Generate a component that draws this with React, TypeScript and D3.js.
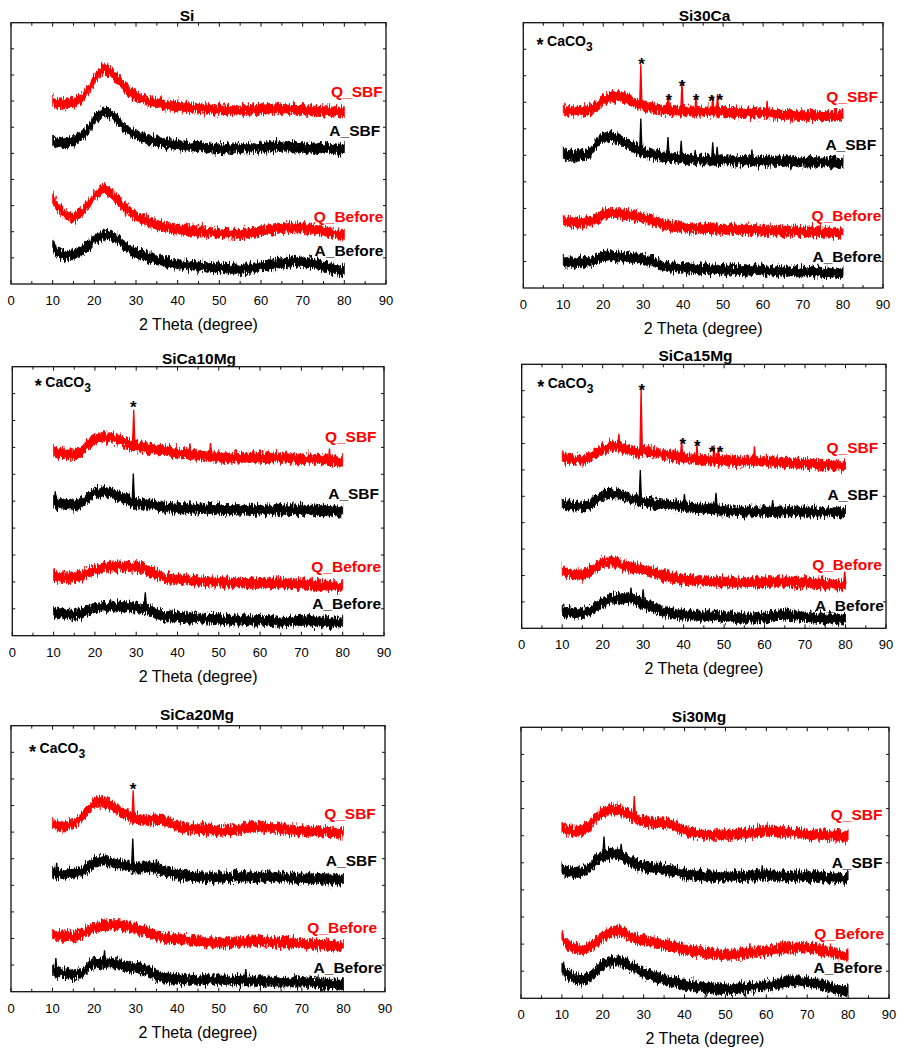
import React from 'react';
import * as d3 from 'd3';

// 2θ grid of the traces (degrees)
const twoTheta = d3.range(10, 81);

// offsets, y in 0..100 of each panel's height
// --- Si
const siQSBF = [70.2,68.4,69.5,68.3,69.9,68.8,70.6,70.2,74.0,74.8, 78.9,79.6,83.4,81.3,81.9,78.6,78.8,75.1,74.7,72.0, 72.4,70.3,71.3,69.2,70.3,68.5,69.7,67.8,69.0,67.5, 68.8,67.1,68.3,66.9,68.1,66.6,67.9,66.3,67.6,66.0, 67.2,65.8,67.1,65.7,67.0,65.8,67.2,66.0,67.4,66.1, 67.5,66.3,67.8,66.5,67.9,66.6,67.8,66.3,67.5,66.1, 67.3,65.9,67.1,65.6,66.9,65.5,66.8,65.4,66.7,65.3,66.2];
const siASBF = [54.9,53.3,54.6,53.4,55.0,54.2,56.4,56.0,58.5,59.9, 63.6,63.8,66.6,65.1,65.8,63.2,62.6,59.3,59.4,57.0, 57.8,55.7,56.5,54.5,55.6,53.9,55.0,53.2,54.3,52.6, 53.9,52.4,53.6,52.0,53.4,51.9,53.2,51.5,52.6,51.0, 52.4,51.0,52.5,51.1,52.7,51.3,52.8,51.4,53.0,51.5, 53.1,51.6,53.2,51.8,53.4,51.9,53.3,51.7,53.0,51.4, 52.8,51.3,52.7,51.2,52.6,51.3,52.7,51.1,52.3,50.7,52.0];
const siQBefore = [33.0,29.4,28.6,26.0,26.3,24.5,27.0,27.0,29.8,30.5, 34.4,34.5,37.4,35.1,35.6,32.3,31.9,29.1,29.2,26.5, 26.7,24.5,25.3,23.2,24.1,22.0,23.1,21.2,22.3,20.4, 21.6,19.9,21.3,19.6,21.0,19.4,20.8,19.1,20.5,18.9, 20.3,18.7,20.0,18.4,19.8,18.3,20.0,18.8,20.5,19.3, 21.0,19.8,21.5,20.3,22.0,20.7,22.3,20.8,22.3,20.7, 22.2,20.5,21.8,20.0,21.3,19.5,20.7,18.8,20.0,18.1,19.2];
const siABefore = [15.2,11.9,11.8,10.2,11.6,10.6,12.7,12.1,14.3,14.7, 17.7,17.0,19.3,18.2,19.3,17.2,17.4,14.3,14.6,11.9, 12.5,10.5,11.6,9.5,10.6,8.6,9.7,7.7,8.8,7.0, 8.2,6.5,8.0,6.2,7.7,6.0,7.5,5.7,7.2,5.4, 6.9,5.2,6.6,4.9,6.4,4.8,6.5,5.2,7.1,5.7, 7.6,6.2,8.1,6.7,8.6,7.2,9.0,7.7,9.5,7.8, 9.2,7.4,8.8,6.8,8.0,6.0,7.2,5.2,6.4,4.4,5.4];

// --- Si30Ca
const si30CaQSBF = [67.5,66.0,67.3,65.8,67.4,66.0,67.6,66.6,68.9,68.5, 71.6,70.7,72.9,71.8,73.2,71.2,72.3,69.8,70.3,68.3, 69.3,67.5,68.6,66.8,68.1,66.4,67.8,66.2,67.7,66.0, 67.3,65.7,67.2,65.6,67.2,65.7,67.1,65.6,67.3,65.7, 67.1,65.5,67.0,65.4,66.9,65.3,66.8,65.2,66.8,65.3, 66.8,65.1,66.6,64.9,66.3,64.7,66.1,64.4,65.9,64.3, 65.8,64.3,65.7,64.2,65.6,64.1,65.6,64.0,65.7,64.2,65.5];
const si30CaASBF = [51.0,49.4,50.7,49.1,50.6,49.2,51.1,50.7,54.4,55.1, 57.5,56.4,57.8,55.8,56.8,54.5,55.0,52.6,53.4,51.3, 51.7,50.0,51.3,49.5,50.6,48.9,50.2,48.5,49.8,48.1, 49.4,47.8,49.2,47.7,49.1,47.6,49.0,47.5,48.9,47.4, 48.8,47.3,48.8,47.2,48.7,47.2,48.7,47.2,48.7,47.2, 48.7,47.2,48.6,47.1,48.5,47.1,48.4,46.9,48.4,46.8, 48.4,46.9,48.3,46.8,48.3,46.8,48.2,46.6,48.0,46.3,47.6];
const si30CaQBefore = [25.9,24.3,25.6,24.0,25.3,23.8,25.6,24.8,26.4,26.2, 28.4,27.3,29.0,27.6,28.6,27.0,28.3,26.5,27.8,26.0, 27.2,25.4,26.5,24.4,25.6,23.2,24.4,22.6,24.0,22.3, 23.6,22.0,23.4,21.9,23.3,21.8,23.2,21.6,23.0,21.4, 22.9,21.3,22.8,21.3,22.8,21.2,22.7,21.1,22.6,21.0, 22.5,20.9,22.4,20.8,22.4,20.8,22.3,20.7,22.2,20.5, 22.1,20.4,22.0,20.3,21.8,20.2,21.7,20.0,21.6,19.9,21.3];
const si30CaABefore = [10.8,9.2,10.5,8.9,10.4,8.9,10.6,9.5,11.2,10.9, 12.7,11.3,12.9,11.4,12.6,11.0,12.3,10.7,12.0,10.4, 11.5,9.7,11.0,9.0,9.2,7.5,8.7,7.1,8.5,6.9, 8.3,6.8,8.1,6.6,8.0,6.4,7.9,6.2,7.7,6.1, 7.7,6.0,7.6,5.9,7.5,5.9,7.5,5.9,7.5,5.9, 7.5,5.8,7.3,5.6,7.1,5.5,7.1,5.5,7.1,5.4, 7.0,5.3,6.8,5.1,6.7,5.1,6.6,4.9,6.5,4.8,6.3];

// --- SiCa10Mg
const ca10QSBF = [68.7,67.2,68.5,66.9,68.2,66.6,68.0,68.5,71.0,71.6, 73.6,72.8,74.7,73.0,74.5,72.6,73.6,71.3,72.3,69.7, 71.6,69.6,70.8,68.9,70.2,68.4,69.8,67.9,69.2,67.4, 68.7,67.0,68.3,66.7,68.0,66.4,67.7,66.1,67.3,65.7, 67.1,65.5,66.9,65.4,66.8,65.3,66.9,65.4,67.0,65.5, 67.1,65.5,67.0,65.4,66.9,65.4,66.8,65.2,66.6,65.0, 66.5,64.9,66.4,64.8,66.3,64.7,66.1,64.4,65.8,64.0,65.2];
const ca10ASBF = [50.0,48.4,49.7,48.2,49.4,47.9,49.2,49.3,51.5,51.9, 53.6,52.6,54.3,52.7,53.7,51.6,52.4,50.3,51.4,49.0, 50.0,48.4,49.6,48.0,49.2,47.4,48.8,47.0,48.5,46.7, 48.1,46.5,48.1,46.5,48.1,46.5,48.0,46.4,47.9,46.2, 47.8,46.1,47.7,46.0,47.6,46.0,47.6,46.0,47.6,46.0, 47.8,46.1,47.4,45.8,47.7,46.2,47.3,45.9,47.8,46.1, 47.6,46.0,47.5,45.9,47.4,45.8,47.3,45.6,47.1,45.3,46.8];
const ca10QBefore = [22.7,21.1,22.5,20.9,22.6,21.1,22.8,22.0,23.6,23.4, 25.2,23.9,26.4,24.9,26.5,24.8,26.6,24.9,26.5,24.8, 26.4,24.4,25.8,23.6,24.2,22.3,23.0,20.5,22.0,20.2, 21.7,20.1,21.4,19.8,21.2,19.6,21.0,19.4,20.9,19.3, 20.9,19.2,20.6,19.1,20.6,19.0,20.5,18.9,20.3,18.8, 20.3,18.7,20.3,18.7,20.3,18.7,20.1,18.5,20.0,18.4, 20.0,18.3,19.8,18.1,19.7,18.1,19.5,17.8,19.2,17.5,18.9];
const ca10ABefore = [9.1,7.6,8.9,7.3,8.7,7.0,8.6,8.0,9.7,9.3, 11.0,9.8,11.6,10.0,11.6,10.1,11.6,10.0,11.4,9.8, 11.3,9.5,11.0,9.2,9.1,7.5,8.3,6.5,7.9,6.4, 7.9,6.2,7.5,5.9,7.3,5.7,7.2,5.6,7.0,5.4, 6.9,5.3,6.7,5.1,6.6,5.0,6.5,4.9,6.4,4.8, 6.4,4.7,6.2,4.6,6.1,4.5,6.2,4.7,6.3,4.8, 6.4,4.8,6.3,4.6,6.1,4.5,5.9,4.3,5.8,4.1,5.6];

// --- SiCa15Mg
const ca15QSBF = [65.2,63.6,64.9,63.3,64.6,63.0,64.8,64.5,66.4,66.5, 68.2,67.8,70.0,68.3,69.4,67.6,68.5,66.6,67.2,66.0, 68.4,66.7,67.4,65.8,66.9,65.1,66.5,64.6,66.0,64.3, 65.2,63.6,64.9,63.3,64.6,63.1,64.5,62.9,64.3,62.8, 64.3,62.7,64.1,62.5,63.9,62.4,64.2,62.6,64.3,62.7, 64.3,62.5,63.8,62.2,63.7,62.0,63.4,61.8,63.2,61.6, 63.1,61.5,62.9,61.3,62.7,61.1,62.5,60.9,62.3,60.7,62.0];
const ca15ASBF = [47.5,45.9,47.2,45.6,46.9,45.4,47.0,46.5,48.6,49.0, 51.0,50.1,51.9,50.3,51.4,49.7,50.4,48.5,49.3,47.7, 48.8,47.2,48.0,46.1,47.5,46.3,47.5,45.9,47.3,45.7, 46.9,45.3,46.5,44.9,46.3,44.7,46.0,44.4,45.7,44.0, 45.4,43.8,45.2,43.6,45.0,43.4,45.0,43.5,45.1,43.5, 45.3,43.2,44.8,43.6,45.2,43.3,44.9,43.5,45.1,43.3, 45.0,43.3,44.9,43.2,44.8,43.1,44.7,43.0,44.6,42.9,44.5];
const ca15QBefore = [22.3,20.5,21.6,19.6,20.9,19.3,21.6,21.4,23.1,23.5, 25.4,24.4,26.1,24.4,25.0,22.8,24.2,22.4,23.5,21.8, 22.9,21.0,22.0,20.1,21.2,19.0,20.3,18.5,19.9,18.0, 19.1,17.5,18.9,17.3,18.8,17.2,18.7,17.1,18.6,16.9, 18.5,16.8,18.3,16.6,18.1,16.5,18.1,16.5,18.1,16.5, 18.1,16.6,18.3,16.8,18.5,16.9,18.4,16.7,18.2,16.5, 18.1,16.4,17.9,16.2,17.7,16.0,17.5,15.8,17.2,15.4,17.0];
const ca15ABefore = [7.1,5.5,6.8,5.2,6.5,4.9,6.7,6.1,7.9,8.5, 10.3,9.9,12.0,10.6,12.2,10.6,12.2,10.6,11.3,9.3, 10.0,8.2,9.0,7.0,7.9,5.5,6.9,4.9,6.3,4.6, 5.8,4.2,5.6,4.0,5.4,3.8,5.3,3.7,5.2,3.6, 5.2,3.6,5.0,3.3,4.7,3.0,4.6,3.2,4.9,3.3, 4.9,3.6,5.3,4.0,5.7,4.3,5.8,4.1,5.6,3.8, 4.9,3.3,4.7,3.1,4.6,3.0,4.5,2.8,4.3,2.6,4.1];

// --- SiCa20Mg
const ca20QSBF = [63.5,61.9,62.8,61.2,63.3,62.5,64.6,65.3,67.8,68.4, 71.6,70.7,72.2,70.2,70.8,68.7,69.1,66.3,67.0,64.8, 65.8,64.1,65.3,63.6,65.4,64.3,65.6,63.5,64.3,62.3, 62.8,61.1,62.4,60.7,62.2,60.5,62.0,60.3,61.8,60.0, 61.2,59.7,61.4,60.0,61.8,60.2,62.2,60.7,62.7,61.1, 62.8,61.1,62.5,60.8,62.3,60.6,62.0,60.2,61.6,59.8, 61.2,59.6,61.1,59.5,61.0,59.4,60.9,59.2,60.6,58.9,60.3];
const ca20ASBF = [45.3,43.7,45.0,43.5,45.2,43.7,45.4,44.4,46.4,47.1, 49.0,48.4,50.3,48.6,49.6,47.4,48.5,46.8,48.0,46.2, 47.2,45.7,47.6,46.2,47.5,45.6,46.8,44.7,45.7,43.9, 44.7,43.1,44.3,42.8,44.0,42.4,43.8,42.3,43.7,42.1, 43.7,42.1,43.8,42.3,44.0,42.4,44.0,42.4,44.0,42.4, 44.0,42.3,43.9,42.2,43.8,42.1,43.7,42.0,43.5,41.8, 43.4,41.8,43.3,41.7,43.2,41.6,43.1,41.4,42.9,41.2,42.8];
const ca20QBefore = [22.1,20.5,21.8,20.2,21.5,19.9,21.8,21.0,22.8,23.0, 24.6,23.5,25.8,24.4,25.9,24.3,25.9,24.1,25.2,23.4, 24.4,22.4,23.9,21.8,22.4,20.6,21.3,19.3,20.8,19.2, 20.5,18.9,20.3,18.6,19.9,18.3,19.7,18.0,19.4,17.8, 19.3,17.7,19.3,17.8,19.4,17.9,19.6,18.1,19.8,18.2, 19.8,18.1,19.6,17.9,19.3,17.7,19.2,17.5,19.0,17.3, 18.9,17.2,18.7,17.0,18.5,16.9,18.3,16.6,18.1,16.4,17.8];
const ca20ABefore = [8.3,6.7,7.9,6.2,7.4,5.6,7.1,6.5,8.7,9.8, 11.2,10.0,11.5,10.0,11.6,9.9,11.0,8.9,10.1,8.5, 9.7,8.1,9.0,7.4,7.2,5.5,6.1,4.5,5.8,4.1, 5.6,4.0,5.3,3.6,5.2,3.6,5.2,3.6,5.2,3.6, 5.2,3.6,5.2,3.6,5.2,3.5,5.0,3.4,4.9,3.2, 4.8,3.1,4.7,3.0,4.6,2.9,4.6,2.9,4.6,2.9, 4.6,2.8,4.3,2.6,4.0,2.3,3.8,2.1,3.6,2.0,3.5];

// --- Si30Mg
const mg30QSBF = [63.2,61.6,62.5,60.8,62.5,61.4,63.3,63.7,66.5,66.9, 69.6,68.6,70.4,68.8,70.2,68.2,69.1,66.5,67.3,65.0, 66.0,64.4,65.5,63.8,65.4,63.8,65.3,63.2,64.0,61.9, 62.3,60.7,61.8,60.2,61.5,59.6,61.2,59.5,61.1,59.4, 61.0,59.5,61.3,59.8,61.6,60.1,61.9,60.4,62.4,60.9, 62.7,61.1,62.4,60.7,62.2,60.5,62.0,60.3,61.7,60.0, 61.2,59.6,61.1,59.5,61.0,59.4,60.9,59.2,60.6,58.9,60.3];
const mg30ASBF = [48.2,46.6,47.1,45.5,47.4,46.0,47.9,48.0,50.9,51.4, 53.2,52.3,54.3,52.6,53.7,51.8,51.8,49.6,50.0,48.3, 49.3,47.7,48.9,47.3,48.7,46.6,48.1,46.3,47.5,45.5, 46.6,45.0,46.2,44.6,45.9,44.3,45.8,44.2,45.8,44.2, 45.8,44.2,45.9,44.3,45.9,44.3,46.1,44.6,46.4,44.8, 46.4,44.7,46.1,44.4,45.9,44.2,45.8,44.2,45.8,44.2, 45.8,44.2,45.7,44.0,45.5,43.9,45.3,43.6,45.0,43.3,44.9];
const mg30QBefore = [22.9,19.7,19.9,17.9,18.6,17.1,19.0,18.6,20.6,21.0, 23.6,23.1,25.1,24.5,25.4,23.9,23.8,21.8,22.9,21.0, 22.3,20.6,21.5,19.8,20.6,19.0,20.3,18.3,19.6,17.9, 18.6,17.0,18.2,16.6,18.0,15.9,17.4,15.8,17.0,15.4, 16.8,15.3,17.0,15.5,17.2,15.8,17.8,16.3,18.0,16.6, 18.0,16.8,18.5,17.3,19.0,17.7,19.4,18.1,19.6,18.0, 19.5,17.8,19.1,17.2,18.4,16.5,17.7,15.8,16.9,15.0,16.2];
const mg30ABefore = [11.9,8.7,8.8,6.9,7.6,6.1,8.0,7.6,10.1,10.5, 13.1,12.4,14.1,13.4,14.3,12.8,13.2,11.1,11.9,9.5, 10.0,8.3,9.1,7.3,8.0,6.1,7.3,5.4,6.6,4.9, 5.7,4.0,5.2,3.5,4.9,3.0,4.5,2.7,4.2,2.6, 4.2,2.7,4.3,2.9,4.6,3.1,4.8,3.4,5.2,3.7, 5.4,4.0,5.9,4.5,6.4,5.5,7.0,5.7,7.2,5.6, 6.7,5.0,6.2,4.5,5.5,3.6,4.6,2.8,3.8,1.9,3.3];

// sharp reflections: [2θ, height above the trace]
const si30CaPeaksQ = [[29.4, 13.8], [36.3, 4.0], [39.7, 9.2], [43.2, 4.5], [47.4, 4.5], [48.6, 5.0], [61.0, 3.7]];
const si30CaPeaksA = [[29.4, 10.6], [36.2, 5.2], [39.5, 4.9], [43.0, 2.5], [47.4, 5.1], [48.5, 3.3], [57.2, 2.9]];
const ca10PeaksQ = [[29.4, 11.7], [43.0, 3.0], [48.0, 2.5], [76.8, 3.0]];
const ca10PeaksA = [[10.4, 2.5], [29.3, 9.2], [43.0, 2.0]];
const ca10PeaksAB = [[32.2, 3.7]];
const ca15PeaksQ = [[24.0, 2.5], [29.5, 21.9], [39.5, 5.0], [43.3, 4.2], [47.5, 3.9], [48.6, 3.3], [57.5, 3.7]];
const ca15PeaksA = [[29.3, 10.1], [40.2, 2.5], [48.0, 3.8], [62.0, 2.0]];
const ca15PeaksQB = [[79.8, 3.0]];
const ca15PeaksAB = [[27.0, 3.0], [30.0, 3.0]];
const ca20PeaksQ = [[29.4, 8.7]];
const ca20PeaksA = [[11.0, 3.0], [29.3, 9.3], [35.0, 2.5]];
const ca20PeaksAB = [[10.8, 3.8], [22.5, 3.0], [56.5, 2.5]];
const mg30PeaksQ = [[27.7, 5.8]];
const mg30PeaksA = [[20.3, 5.0], [24.5, 2.5], [59.0, 2.5]];

// star marks over CaCO3 reflections: [2θ, y]
const si30CaStars = [[29.6, 85.9], [36.4, 72.5], [39.75, 77.8], [43.2, 72.5], [47.1, 72.1], [49.2, 72.5]];
const ca10Stars = [[29.3, 86.4]];
const ca15Stars = [[29.65, 91.8], [39.8, 71.3], [43.4, 70.7], [47.0, 68.2], [49.0, 68.2]];
const ca20Stars = [[29.4, 77.7]];

const labelNames = ['Q_SBF', 'A_SBF', 'Q_Before', 'A_Before'];
const RED = '#ff0000';
const BLACK = '#000000';
const colors = [RED, BLACK, RED, BLACK];
const FONT = '"Liberation Sans", Arial, Helvetica, sans-serif';
const HALF = 1.8; // half thickness of the scatter band

const panels = [
  {
    title: 'Si', titleX: 187, titleY: 15,
    box: { left: 11, right: 386, top: 22.7, bottom: 284 },
    traces: [siQSBF, siASBF, siQBefore, siABefore],
    peaks: [[], [], [], []],
    labels: [[89.2, 73.6], [88.6, 58.7], [89.4, 25.9], [89.4, 12.9]],
    legend: null, stars: [],
  },
  {
    title: 'Si30Ca', titleX: 704.5, titleY: 15,
    box: { left: 523.3, right: 883, top: 22.7, bottom: 288 },
    traces: [si30CaQSBF, si30CaASBF, si30CaQBefore, si30CaABefore],
    peaks: [si30CaPeaksQ, si30CaPeaksA, [], []],
    labels: [[88.75, 72.1], [88.3, 54.2], [89.6, 27.2], [89.6, 11.9]],
    legend: [4.2, 93.1], stars: si30CaStars,
  },
  {
    title: 'SiCa10Mg', titleX: 199, titleY: 358,
    box: { left: 12.3, right: 384, top: 366.7, bottom: 635.7 },
    traces: [ca10QSBF, ca10ASBF, ca10QBefore, ca10ABefore],
    peaks: [ca10PeaksQ, ca10PeaksA, [], ca10PeaksAB],
    labels: [[88.2, 74], [88.8, 52.9], [89.3, 25.9], [89.3, 11.8]],
    legend: [6.3, 94.2], stars: ca10Stars,
  },
  {
    title: 'SiCa15Mg', titleX: 695.5, titleY: 355,
    box: { left: 521.7, right: 886, top: 364.3, bottom: 628.3 },
    traces: [ca15QSBF, ca15ASBF, ca15QBefore, ca15ABefore],
    peaks: [ca15PeaksQ, ca15PeaksA, ca15PeaksQB, ca15PeaksAB],
    labels: [[88.1, 68.4], [88.1, 50.8], [89, 24], [89.5, 8.8]],
    legend: [4.7, 93.1], stars: ca15Stars,
  },
  {
    title: 'SiCa20Mg', titleX: 197, titleY: 714,
    box: { left: 11, right: 385, top: 725.7, bottom: 991.7 },
    traces: [ca20QSBF, ca20ASBF, ca20QBefore, ca20ABefore],
    peaks: [ca20PeaksQ, ca20PeaksA, [], ca20PeaksAB],
    labels: [[87.8, 67], [88, 49.5], [88.1, 24.1], [89.4, 9]],
    legend: [5.2, 91.7], stars: ca20Stars,
  },
  {
    title: 'Si30Mg', titleX: 699, titleY: 716,
    box: { left: 521, right: 889, top: 727.3, bottom: 998.3 },
    traces: [mg30QSBF, mg30ASBF, mg30QBefore, mg30ABefore],
    peaks: [mg30PeaksQ, mg30PeaksA, [], []],
    labels: [[88.4, 67.7], [88.4, 50.2], [88.8, 24], [88.4, 11.3]],
    legend: null, stars: [],
  },
];

// value of a trace at any 2θ (linear between grid points)
function valueAt(values: number[], t: number) {
  const i = Math.max(0, Math.min(values.length - 2, Math.floor(t - twoTheta[0])));
  const f = t - twoTheta[i];
  return values[i] + (values[i + 1] - values[i]) * f;
}

function Panel({ p }: { p: any }) {
  const { left, right, top, bottom } = p.box;
  const x = d3.scaleLinear().domain([0, 90]).range([left, right]);
  const y = d3.scaleLinear().domain([0, 100]).range([bottom, top]);

  const band = d3.area<number>()
    .curve(d3.curveBasis)
    .x((_, i) => x(twoTheta[i]))
    .y0(d => y(d - HALF))
    .y1(d => y(d + HALF));

  const xTicks = d3.range(0, 91, 5);
  const yTicks = d3.range(10, 100, 10);

  return (
    <g>
      <text x={p.titleX} y={p.titleY + 5.5} textAnchor="middle" fontSize={15.5} fontWeight="bold" fontFamily={FONT}>{p.title}</text>

      {p.traces.map((vals: number[], k: number) => (
        <g key={k}>
          <path d={band(vals) || ''} fill={colors[k]} stroke={colors[k]} strokeWidth={0.8} filter="url(#grain)" />
          {p.peaks[k].map(([t, h]: number[], j: number) => {
            const b = valueAt(vals, t);
            const pts: [number, number][] = [[x(t - 0.3), y(b)], [x(t), y(b + HALF + h)], [x(t + 0.3), y(b)]];
            return <path key={j} d={d3.line()(pts) || ''} fill={colors[k]} stroke={colors[k]} strokeWidth={1.3} strokeLinejoin="miter" />;
          })}
          <text x={x(p.labels[k][0])} y={y(p.labels[k][1]) + 5.5} textAnchor="end" fill={colors[k]} fontSize={15.5} fontWeight="bold" fontFamily={FONT}>{labelNames[k]}</text>
        </g>
      ))}

      {p.stars.map(([t, v]: number[], j: number) => (
        <text key={j} x={x(t)} y={y(v) + 10} textAnchor="middle" fontSize={17} fontWeight="bold" fontFamily={FONT}>*</text>
      ))}

      {p.legend && (
        <g fontWeight="bold" fontFamily={FONT}>
          <text x={x(p.legend[0])} y={y(p.legend[1]) + 10} textAnchor="middle" fontSize={18}>*</text>
          <text x={x(p.legend[0]) + 7} y={y(p.legend[1]) + 5} fontSize={14}>
            CaCO<tspan dy={5} fontSize={12}>3</tspan>
          </text>
        </g>
      )}

      {/* frame and inward ticks */}
      <rect x={left} y={top} width={right - left} height={bottom - top} fill="none" stroke="#111" strokeWidth={1.3} />
      {xTicks.map(t => (
        <g key={'x' + t} stroke="#111" strokeWidth={1}>
          <line x1={x(t)} x2={x(t)} y1={bottom} y2={bottom - (t % 10 === 0 ? 4 : 3)} />
          <line x1={x(t)} x2={x(t)} y1={top} y2={top + (t % 10 === 0 ? 4 : 3)} />
        </g>
      ))}
      {yTicks.map(v => (
        <g key={'y' + v} stroke="#111" strokeWidth={1}>
          <line x1={left} x2={left + 3} y1={y(v)} y2={y(v)} />
          <line x1={right} x2={right - 3} y1={y(v)} y2={y(v)} />
        </g>
      ))}
      {d3.range(0, 91, 10).map(t => (
        <text key={'l' + t} x={x(t)} y={bottom + 21} textAnchor="middle" fontSize={13} fontFamily={FONT}>{t}</text>
      ))}
      <text x={(left + right) / 2} y={bottom + 46} textAnchor="middle" fontSize={16} fontFamily={FONT}>2 Theta (degree)</text>
    </g>
  );
}

export default function App() {
  return (
    <svg width={897} height={1050} style={{ position: 'absolute', left: 0, top: 0, background: '#fff' }}>
      <defs>
        {/* rough, hairy edge of a noisy detector trace (vertical displacement only) */}
        <filter id="grain" x="-2%" y="-60%" width="104%" height="220%">
          <feTurbulence type="fractalNoise" baseFrequency="0.75 0.15" numOctaves={2} seed={7} result="n" />
          <feColorMatrix in="n" type="matrix" values="0 0 0 0 0.5  0 1 0 0 0  0 0 0 0 0  0 0 0 0 1" result="m" />
          <feDisplacementMap in="SourceGraphic" in2="m" scale={11} xChannelSelector="R" yChannelSelector="G" />
        </filter>
      </defs>
      <rect width={897} height={1050} fill="#fff" />
      {panels.map((p, i) => <Panel key={i} p={p} />)}
    </svg>
  );
}
